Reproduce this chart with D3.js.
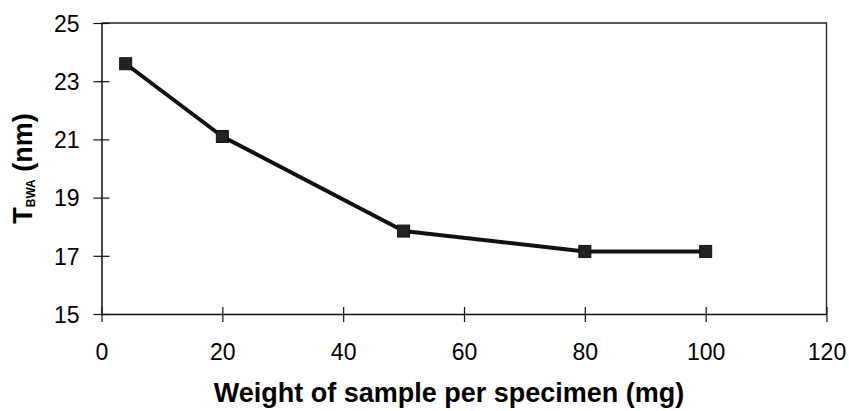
<!DOCTYPE html>
<html>
<head>
<meta charset="utf-8">
<script src="https://cdn.jsdelivr.net/npm/d3@7/dist/d3.min.js"></script>
<style>
  html, body { margin: 0; padding: 0; background: #fff; }
  svg { display: block; font-family: Arial, "Liberation Sans", sans-serif; }
</style>
</head>
<body>
<svg id="chart" width="849" height="411"></svg>
<script>
// Sample weight per specimen (mg) and the resulting T_BWA (nm)
const weights = [4, 20, 50, 80, 100];
const tbwa = [23.6, 21.1, 17.85, 17.15, 17.15];
const xTicks = [0, 20, 40, 60, 80, 100, 120];
const yTicks = [15, 17, 19, 21, 23, 25];

const svg = d3.select("#chart");
const plotLeft = 101.5, plotRight = 826.5, plotTop = 23, plotBottom = 314;

const x = d3.scaleLinear().domain([0, 120]).range([plotLeft, plotRight]);
const y = d3.scaleLinear().domain([15, 25]).range([plotBottom, plotTop]);

// frame: top and right edges
svg.append("path")
  .attr("d", `M${plotLeft},${plotTop}H${plotRight}V${plotBottom}`)
  .attr("fill", "none").attr("stroke", "#222").attr("stroke-width", 1.3);

// x axis with ticks crossing the line
const xAxis = svg.append("g").attr("transform", `translate(0,${plotBottom})`)
  .call(d3.axisBottom(x).tickValues(xTicks).tickSize(8).tickSizeOuter(0).tickPadding(22));
xAxis.selectAll(".tick line").attr("y1", -7).attr("y2", 8);

// y axis with ticks crossing the line
const yAxis = svg.append("g").attr("transform", `translate(${plotLeft},0)`)
  .call(d3.axisLeft(y).tickValues(yTicks).tickSize(8).tickSizeOuter(0).tickPadding(14));
yAxis.selectAll(".tick line").attr("x1", 8).attr("x2", -8);

[xAxis, yAxis].forEach(g => {
  g.select(".domain").attr("stroke", "#111").attr("stroke-width", 1.5);
  g.selectAll(".tick line").attr("stroke", "#111").attr("stroke-width", 1.2);
  g.selectAll(".tick text").attr("fill", "#000").attr("font-size", 23)
    .attr("font-family", "Arial, 'Liberation Sans', sans-serif");
});
xAxis.selectAll(".tick text").attr("dy", "0.71em");
yAxis.selectAll(".tick text").attr("dy", "0.36em");

// data line
const line = d3.line().x((d, i) => x(weights[i])).y(d => y(d));
svg.append("path").datum(tbwa)
  .attr("d", line)
  .attr("fill", "none").attr("stroke", "#111").attr("stroke-width", 4)
  .attr("stroke-linejoin", "round");

// square markers
const ms = 12;
svg.selectAll("rect.marker").data(tbwa).join("rect")
  .attr("class", "marker")
  .attr("x", (d, i) => x(weights[i]) - ms / 2)
  .attr("y", d => y(d) - ms / 2)
  .attr("width", ms).attr("height", ms)
  .attr("fill", "#222").attr("stroke", "#111").attr("stroke-width", 1);

// axis titles
svg.append("text")
  .attr("x", 449).attr("y", 402)
  .attr("text-anchor", "middle")
  .attr("font-size", 27).attr("font-weight", "bold")
  .text("Weight of sample per specimen (mg)");

const yt = svg.append("text")
  .attr("transform", `translate(32,${(plotTop + plotBottom) / 2}) rotate(-90)`)
  .attr("text-anchor", "middle")
  .attr("font-size", 27).attr("font-weight", "bold");
yt.append("tspan").text("T");
yt.append("tspan").attr("font-size", 12).attr("dy", 3).text("BWA");
yt.append("tspan").attr("dy", -3).text(" (nm)");
</script>
</body>
</html>
